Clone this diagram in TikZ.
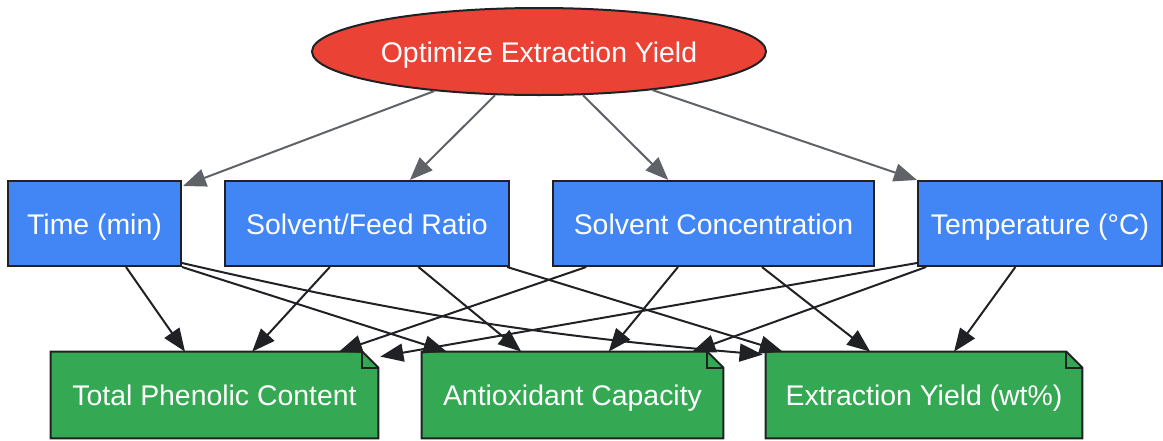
\documentclass[tikz,border=0pt]{standalone}
\usepackage{fontspec}
\setmainfont{Liberation Sans}
\usetikzlibrary{arrows.meta,calc,shapes.geometric,backgrounds}
\definecolor{goalred}{HTML}{EA4335}
\definecolor{parblue}{HTML}{4285F4}
\definecolor{outgreen}{HTML}{34A853}
\definecolor{edgedark}{HTML}{202124}
\definecolor{edgegray}{HTML}{5F6368}

\begin{document}
\begin{tikzpicture}[x=0.5pt,y=-0.5pt,
        every node/.style={text=white,font=\fontsize{14.2}{17}\selectfont,text height=10.5pt,text depth=0pt},
        goal/.style={ellipse,draw=edgedark,line width=1pt,fill=goalred,minimum width=227pt,minimum height=43.5pt,inner sep=0pt},
        param/.style={rectangle,draw=edgedark,line width=1pt,fill=parblue,minimum height=42.5pt,inner sep=0pt},
        outcome/.style={rectangle,minimum height=43pt,inner sep=0pt},
        topedge/.style={-{Triangle[length=11.5pt,width=9pt]},edgegray,line width=1pt},
        outedge/.style={-{Triangle[length=11.5pt,width=9pt]},edgedark,line width=1pt}]
    \useasboundingbox (0,0) rectangle (1163,440);

    \node[goal] (goal) at (539,51.5) {Optimize Extraction Yield};

    \node[param,minimum width=86.5pt] (time) at (94.5,223.5) {Time (min)};
    \node[param,minimum width=142pt] (sfr) at (367,223.5) {Solvent/Feed Ratio};
    \node[param,minimum width=160.5pt] (sc) at (713.5,223.5) {Solvent Concentration};
    \node[param,minimum width=122pt] (temp) at (1040,223.5) {Temperature (°C)};

    \node[outcome,minimum width=163.5pt] (tpc) at (214.5,395) {Total Phenolic Content};
    \node[outcome,minimum width=150.5pt] (ac) at (572.5,395) {Antioxidant Capacity};
    \node[outcome,minimum width=158pt] (ey) at (924,395) {Extraction Yield (wt\%)};

    \begin{scope}[on background layer]
        \foreach \n in {tpc,ac,ey}{
            \filldraw[fill=outgreen,draw=edgedark,line width=1pt] (\n.south west) -- (\n.north west) -- ($(\n.north east)+(-16,0)$) -- ($(\n.north east)+(0,16)$) -- (\n.south east) -- cycle;
            \draw[edgedark,line width=1pt] ($(\n.north east)+(-16,0)$) -- ($(\n.north east)+(-16,16)$) -- ($(\n.north east)+(0,16)$);
        }
    \end{scope}

    \draw[topedge] (goal) -- ($(time.north east)+(1,6)$);
    \draw[topedge] (goal) -- ($(sfr.north west)!0.65!(sfr.north east)$);
    \draw[topedge] (goal) -- ($(sc.north west)!0.36!(sc.north east)$);
    \draw[topedge] (goal) -- (temp.north west);

    \foreach \a/\fa/\b/\fb in {time/0.68/tpc/0.41, time/1/ac/0.083, sfr/0.37/tpc/0.615, sfr/0.68/ac/0.33, sfr/0.99/ey/0.054, sc/0.106/tpc/0.88, sc/0.39/ac/0.62, sc/0.65/ey/0.33, temp/0.037/ac/0.897, temp/0.4/ey/0.595}
        \draw[outedge] ($(\a.south west)!\fa!(\a.south east)$) -- ($(\b.north west)!\fb!(\b.north east)$);

    \draw[outedge] ($(time.south east)+(0,-4)$) to[bend right=4] ($(ey.north west)+(-3,3)$);
    \draw[outedge] ($(temp.south west)+(0,-4)$) -- ($(tpc.north east)+(2,5)$);
\end{tikzpicture}
\end{document}
